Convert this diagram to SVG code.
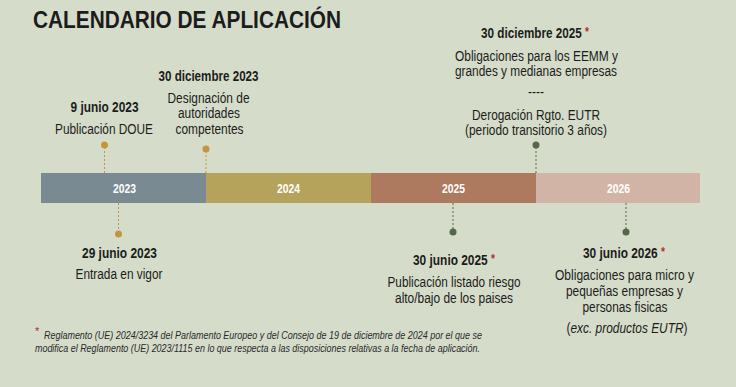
<svg xmlns="http://www.w3.org/2000/svg" width="736" height="387" viewBox="0 0 736 387">
<style>
.t{font-family:"Liberation Sans Narrow","Liberation Sans",Arial,sans-serif;fill:#1c1c1c;text-anchor:middle}
.s{text-anchor:start}
.d{font-size:14px;font-weight:bold}
.b{font-size:14px}
.y{font-family:"Liberation Sans Narrow","Liberation Sans",Arial,sans-serif;font-size:13px;font-weight:bold;fill:#fff;text-anchor:middle}
.ast{fill:#c0282d;font-size:12px}
.fn{font-family:"Liberation Sans Narrow","Liberation Sans",Arial,sans-serif;font-size:10px;font-style:italic;fill:#2a2a2a}
.gl{stroke:#c3963e;stroke-width:1;stroke-dasharray:2,2;fill:none}
.gd{fill:#c3963e}
.vl{stroke:#55684a;stroke-width:1;stroke-dasharray:2,2;fill:none}
.vd{fill:#55684a}
</style>
<rect width="736" height="387" fill="#d6dcca"/>
<text x="33" y="28" font-family="'Liberation Sans Narrow','Liberation Sans',Arial,sans-serif" font-size="23" font-weight="bold" fill="#1c1c1c" textLength="308" lengthAdjust="spacingAndGlyphs">CALENDARIO DE APLICACIÓN</text>
<g id="bar">
<rect x="41" y="173" width="166" height="30" fill="#7a8a93"/>
<rect x="206" y="173" width="166" height="30" fill="#b5a35c"/>
<rect x="371" y="173" width="166" height="30" fill="#ad7a60"/>
<rect x="536" y="173" width="164" height="30" fill="#d2b4a6"/>
<text class="y" x="124.5" y="193" textLength="23" lengthAdjust="spacingAndGlyphs">2023</text>
<text class="y" x="288.5" y="193" textLength="23" lengthAdjust="spacingAndGlyphs">2024</text>
<text class="y" x="453.5" y="193" textLength="23" lengthAdjust="spacingAndGlyphs">2025</text>
<text class="y" x="618.5" y="193" textLength="23" lengthAdjust="spacingAndGlyphs">2026</text>
</g>
<g id="connectors">
<line class="gl" x1="104.5" y1="147" x2="104.5" y2="173"/>
<line class="gl" x1="206" y1="151" x2="206" y2="173"/>
<line class="gl" x1="118.5" y1="203" x2="118.5" y2="232"/>
<line class="vl" x1="453" y1="203" x2="453" y2="231"/>
<line class="vl" x1="536" y1="147" x2="536" y2="173"/>
<line class="vl" x1="626" y1="203" x2="626" y2="231"/>
</g>
<g id="ev1">
<circle class="gd" cx="104.5" cy="145" r="3.5"/>
<text class="t d" x="104.5" y="112" textLength="68" lengthAdjust="spacingAndGlyphs">9 junio 2023</text>
<text class="t b" x="104" y="134" textLength="98" lengthAdjust="spacingAndGlyphs">Publicación DOUE</text>
</g>
<g id="ev2">
<circle class="gd" cx="206" cy="149" r="3.5"/>
<text class="t d" x="208.5" y="81" textLength="100" lengthAdjust="spacingAndGlyphs">30 diciembre 2023</text>
<text class="t b" x="208.5" y="103" textLength="82" lengthAdjust="spacingAndGlyphs">Designación de</text>
<text class="t b" x="209" y="118" textLength="62" lengthAdjust="spacingAndGlyphs">autoridades</text>
<text class="t b" x="209.5" y="134" textLength="68" lengthAdjust="spacingAndGlyphs">competentes</text>
</g>
<g id="ev3">
<circle class="gd" cx="118.5" cy="234" r="3.5"/>
<text class="t d" x="119.5" y="258" textLength="75" lengthAdjust="spacingAndGlyphs">29 junio 2023</text>
<text class="t b" x="119" y="279" textLength="87" lengthAdjust="spacingAndGlyphs">Entrada en vigor</text>
</g>
<g id="ev4">
<circle class="vd" cx="453" cy="232" r="3.5"/>
<text class="t d s" x="413" y="265" textLength="82" lengthAdjust="spacingAndGlyphs">30 junio 2025 <tspan class="ast" dy="-2">*</tspan></text>
<text class="t b" x="454" y="287" textLength="133" lengthAdjust="spacingAndGlyphs">Publicación listado riesgo</text>
<text class="t b" x="454" y="303" textLength="118" lengthAdjust="spacingAndGlyphs">alto/bajo de los paises</text>
</g>
<g id="ev5">
<circle class="vd" cx="536" cy="145" r="3.5"/>
<text class="t d s" x="481" y="38" textLength="108" lengthAdjust="spacingAndGlyphs">30 diciembre 2025 <tspan class="ast" dy="-2">*</tspan></text>
<text class="t b" x="536.5" y="61" textLength="163" lengthAdjust="spacingAndGlyphs">Obligaciones para los EEMM y</text>
<text class="t b" x="536" y="76" textLength="162" lengthAdjust="spacingAndGlyphs">grandes y medianas empresas</text>
<text class="t b" x="536" y="97" textLength="16" lengthAdjust="spacingAndGlyphs">----</text>
<text class="t b" x="536" y="120" textLength="128" lengthAdjust="spacingAndGlyphs">Derogación Rgto. EUTR</text>
<text class="t b" x="536" y="135" textLength="142" lengthAdjust="spacingAndGlyphs">(periodo transitorio 3 años)</text>
</g>
<g id="ev6">
<circle class="vd" cx="626" cy="232" r="3.5"/>
<text class="t d s" x="583" y="258" textLength="82" lengthAdjust="spacingAndGlyphs">30 junio 2026 <tspan class="ast" dy="-2">*</tspan></text>
<text class="t b" x="624.5" y="280" textLength="139" lengthAdjust="spacingAndGlyphs">Obligaciones para micro y</text>
<text class="t b" x="624.5" y="296" textLength="117" lengthAdjust="spacingAndGlyphs">pequeñas empresas y</text>
<text class="t b" x="625" y="312" textLength="85" lengthAdjust="spacingAndGlyphs">personas fisicas</text>
<text class="t b" x="627" y="333" textLength="121" lengthAdjust="spacingAndGlyphs">(<tspan font-style="italic">exc. productos EUTR</tspan>)</text>
</g>
<g id="footnote">
<text x="35" y="335" font-family="'Liberation Sans',Arial,sans-serif" font-size="11" fill="#c0282d">*</text>
<text class="fn" x="44" y="339" textLength="438" lengthAdjust="spacingAndGlyphs">Reglamento (UE) 2024/3234 del Parlamento Europeo y del Consejo de 19 de diciembre de 2024 por el que se</text>
<text class="fn" x="35" y="352" textLength="445" lengthAdjust="spacingAndGlyphs">modifica el Reglamento (UE) 2023/1115 en lo que respecta a las disposiciones relativas a la fecha de aplicación.</text>
</g>
</svg>
